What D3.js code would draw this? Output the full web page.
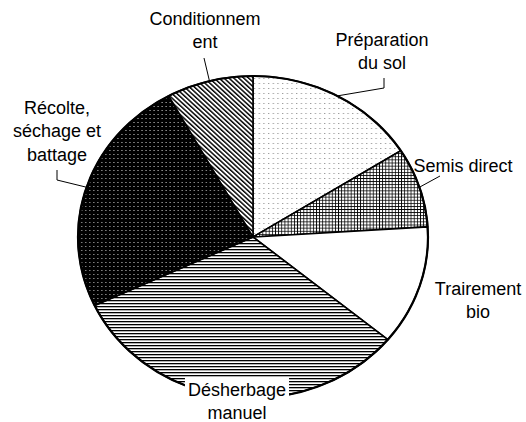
<!DOCTYPE html>
<html>
<head>
<meta charset="utf-8">
<script src="https://cdn.jsdelivr.net/npm/d3@7"></script>
<style>
  html, body { margin: 0; padding: 0; background: #fff; }
  svg { display: block; }
  text { font-family: "Liberation Sans", Arial, sans-serif; font-size: 18px; fill: #000; }
</style>
</head>
<body>
<svg id="chart" width="526" height="422"></svg>
<script>
// ---- data ----
const categories = ["Préparation du sol", "Semis direct", "Trairement bio", "Désherbage manuel", "Récolte, séchage et battage", "Conditionnement"];
const values = [16, 8, 12, 32, 24, 8];
const labelLines = [
  ["Préparation", "du sol"],
  ["Semis direct"],
  ["Trairement", "bio"],
  ["Désherbage", "manuel"],
  ["Récolte,", "séchage et", "battage"],
  ["Conditionnem", "ent"]
];
const fills = ["url(#dotsLight)", "url(#grid)", "#fff", "url(#hlines)", "url(#dotsDark)", "url(#diag)"];

// ---- layout ----
const W = 526, H = 422;
const cx = 253, cy = 237, ry = 161, rx = 175;
const sx = rx / ry;
const labelPos = [
  {x: 382, y: 46, leader: [[384, 78], [384, 88]]},
  {x: 463, y: 172, leader: [[440, 176]]},
  {x: 478, y: 295, leader: null},
  {x: 237, y: 396, leader: null, box: true},
  {x: 57, y: 114, leader: [[57, 170], [57, 180]]},
  {x: 205, y: 25, leader: [[204, 58]]}
];
const lineH = 23.3;

const svg = d3.select("#chart");
const defs = svg.append("defs");

// patterns
let p = defs.append("pattern").attr("id", "dotsLight").attr("patternUnits", "userSpaceOnUse").attr("width", 4.3).attr("height", 5);
p.append("rect").attr("width", 4.3).attr("height", 5).attr("fill", "#fff");
p.append("rect").attr("x", 1).attr("y", 1).attr("width", 1).attr("height", 1).attr("fill", "#888");

p = defs.append("pattern").attr("id", "grid").attr("patternUnits", "userSpaceOnUse").attr("width", 2.9).attr("height", 3.1);
p.append("rect").attr("width", 2.9).attr("height", 3.1).attr("fill", "#fff");
p.append("rect").attr("width", 0.75).attr("height", 3.1).attr("fill", "#000");
p.append("rect").attr("width", 2.9).attr("height", 0.8).attr("fill", "#000");

p = defs.append("pattern").attr("id", "hlines").attr("patternUnits", "userSpaceOnUse").attr("width", 10).attr("height", 3);
p.append("rect").attr("width", 10).attr("height", 3).attr("fill", "#fff");
p.append("rect").attr("width", 10).attr("height", 1.3).attr("fill", "#000");

p = defs.append("pattern").attr("id", "dotsDark").attr("patternUnits", "userSpaceOnUse").attr("width", 3.7).attr("height", 4);
p.append("rect").attr("width", 3.7).attr("height", 4).attr("fill", "#000");
p.append("rect").attr("x", 1).attr("y", 1).attr("width", 1).attr("height", 1).attr("fill", "#bbb");

p = defs.append("pattern").attr("id", "diag").attr("patternUnits", "userSpaceOnUse").attr("width", 3.2).attr("height", 10).attr("patternTransform", "rotate(-45)");
p.append("rect").attr("width", 3.2).attr("height", 10).attr("fill", "#fff");
p.append("rect").attr("width", 1.4).attr("height", 10).attr("fill", "#000");

// pie
const pie = d3.pie().sort(null).value(d => d);
const arcs = pie(values);
const arc = d3.arc().innerRadius(0).outerRadius(ry);

const g = svg.append("g").attr("transform", `translate(${cx},${cy}) scale(${sx},1)`);
g.selectAll("path.slice").data(arcs).join("path")
  .attr("class", "slice")
  .attr("d", arc)
  .attr("fill", (d, i) => fills[i])
  .attr("stroke", "#000")
  .attr("stroke-width", 1.6)
  .attr("stroke-linejoin", "round")
  .attr("vector-effect", "non-scaling-stroke");
g.append("ellipse").attr("cx", 0).attr("cy", 0).attr("rx", ry).attr("ry", ry)
  .attr("fill", "none").attr("stroke", "#000").attr("stroke-width", 2.2)
  .attr("vector-effect", "non-scaling-stroke");

// leader lines: from label elbow to slice mid-angle on the edge
function edgePoint(d) {
  const a = (d.startAngle + d.endAngle) / 2;
  return [cx + rx * Math.sin(a), cy - ry * Math.cos(a)];
}
arcs.forEach((d, i) => {
  const lp = labelPos[i];
  if (!lp.leader) return;
  const pts = lp.leader.concat([edgePoint(d)]);
  svg.append("path")
    .attr("d", d3.line()(pts))
    .attr("fill", "none").attr("stroke", "#000").attr("stroke-width", 1);
});

// labels
labelLines.forEach((lines, i) => {
  const lp = labelPos[i];
  const tg = svg.append("g");
  const t = tg.append("text").attr("text-anchor", "middle");
  lines.forEach((ln, j) => {
    t.append("tspan").attr("x", lp.x).attr("y", lp.y + j * lineH).text(ln);
  });
  if (lp.box) {
    const bb = t.node().getBBox();
    tg.insert("rect", "text")
      .attr("x", bb.x - 3).attr("y", bb.y - 2)
      .attr("width", bb.width + 6).attr("height", bb.height + 4)
      .attr("fill", "#fff");
  }
});
</script>
</body>
</html>
